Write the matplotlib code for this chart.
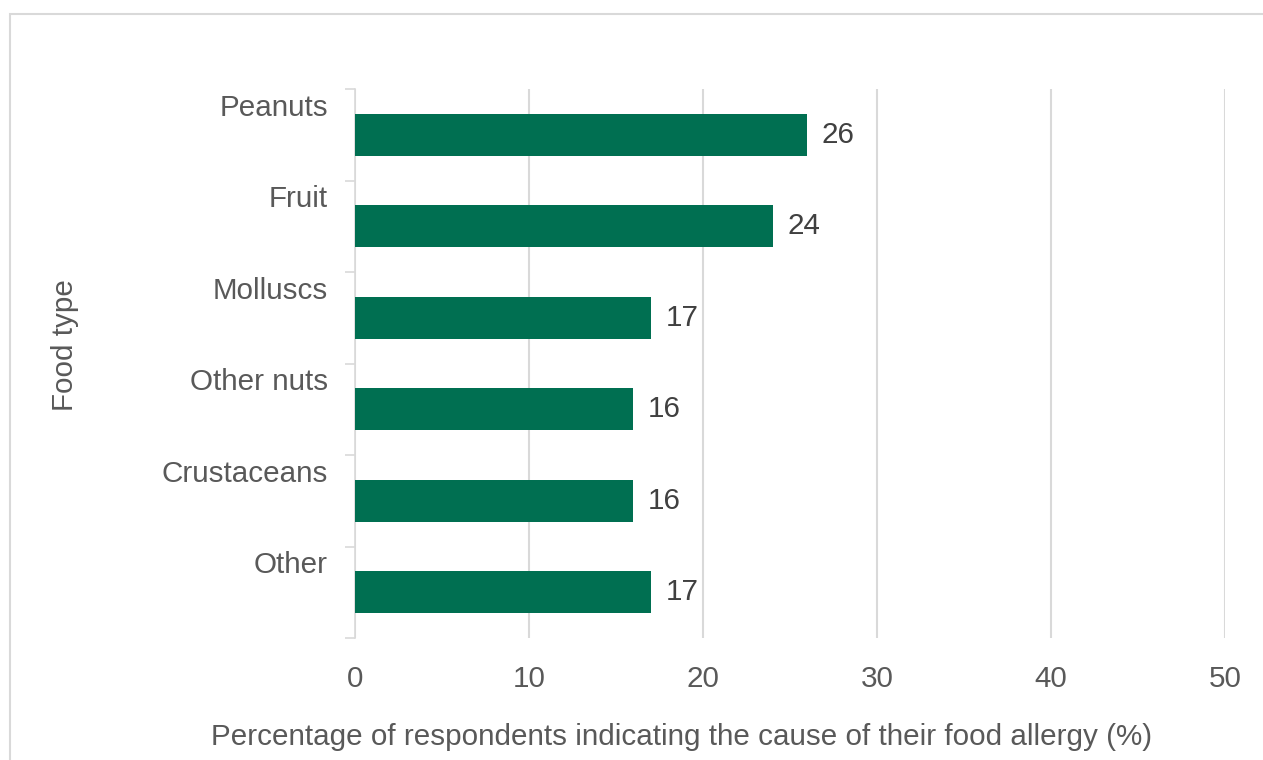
import matplotlib.pyplot as plt
from matplotlib.patches import Rectangle
from matplotlib.ticker import FixedLocator

# data, top to bottom
food_types = ["Peanuts", "Fruit", "Molluscs", "Other nuts", "Crustaceans", "Other"]
percent = [26, 24, 17, 16, 16, 17]
x_ticks = [0, 10, 20, 30, 40, 50]

BAR = "#006f51"
GRID = "#d9d9d9"
TXT = "#595959"
VAL = "#404040"

plt.rcParams["font.family"] = ["Liberation Sans", "DejaVu Sans"]
FS = 21.3

W, H = 1263, 760
fig = plt.figure(figsize=(W / 100, H / 100), dpi=100)
ax = fig.add_axes([355 / W, 1 - 638 / H, 870 / W, (638 - 89) / H])

pos = list(range(len(food_types)))
bars = ax.barh(pos, percent, height=0.46, color=BAR, zorder=3)
ax.bar_label(bars, labels=[str(v) for v in percent], padding=10.5,
             fontsize=FS, color=VAL)

ax.set_xlim(0, 50)
ax.set_ylim(len(food_types) - 0.5, -0.5)
ax.set_xticks(x_ticks)
ax.set_xticklabels([str(t) for t in x_ticks])
ax.grid(axis="x", color=GRID, linewidth=1.5, zorder=0)

# category labels sit above the bars; tick marks at the band edges
ax.set_yticks([p - 0.33 for p in pos])
ax.set_yticklabels(food_types)
ax.yaxis.set_minor_locator(FixedLocator([p - 0.5 for p in pos] + [pos[-1] + 0.5]))
ax.tick_params(axis="y", which="major", length=0, pad=19.4, labelsize=FS,
               labelcolor=TXT)
ax.tick_params(axis="y", which="minor", length=7.2, width=1.2, color=GRID)
ax.tick_params(axis="x", length=0, pad=19.4, labelsize=FS, labelcolor=TXT)

for s in ["top", "right", "bottom"]:
    ax.spines[s].set_visible(False)
ax.spines["left"].set_color(GRID)
ax.spines["left"].set_linewidth(1.2)

ax.set_xlabel("Percentage of respondents indicating the cause of their food allergy (%)",
              fontsize=FS, color=TXT, va="center")
ax.xaxis.set_label_coords((682 - 355) / 870, -(737 - 638) / 549)
ax.set_ylabel("Food type", fontsize=FS, color=TXT, va="center", ha="center")
ax.yaxis.set_label_coords((65 - 355) / 870, (638 - 345) / 549)

# outer frame, only top and left edges show
fig.add_artist(Rectangle((10 / W, -0.1), 1.2, 1 - 14 / H + 0.1,
                         transform=fig.transFigure, fill=False,
                         edgecolor=GRID, linewidth=1.5))

fig.savefig("out.png", dpi=100)
